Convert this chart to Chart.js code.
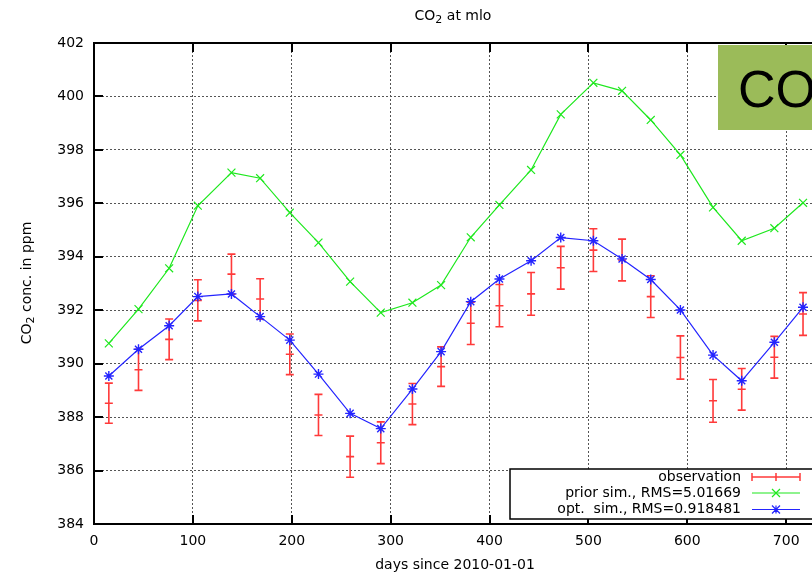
<!DOCTYPE html>
<html lang="en">
<head>
<meta charset="UTF-8">
<title>CO2 at mlo</title>
<script src="https://cdn.jsdelivr.net/npm/chart.js"></script>
<style>
  body { margin: 0; background: #fff; overflow: hidden; }
  #wrap { position: relative; width: 812px; height: 577px; overflow: hidden; }
  #badge {
    position: absolute; left: 718px; top: 45px; width: 110px; height: 85px;
    box-sizing: border-box; padding: 18px 0 0 20px;
    background: #9bbb59; color: #000;
    font: 52px/52px "Liberation Sans", Arial, sans-serif;
  }
</style>
</head>
<body>
<div id="wrap">
  <canvas id="co2" width="821" height="577"></canvas>
  <div id="badge">CO</div>
</div>
<script>
// monthly samples, days since 2010-01-01
const days = [15, 45, 76, 105, 139, 168, 198, 227, 259, 290, 322, 351,
              381, 410, 442, 472, 505, 534, 563, 593, 626, 655, 688, 717];
const obsValues = [388.52, 389.77, 390.91, 392.37, 393.35, 392.42, 390.35, 388.08, 386.52, 387.04, 388.49, 389.89,
                   391.51, 392.17, 392.61, 393.59, 394.25, 393.88, 392.51, 390.23, 388.61, 389.04, 390.24, 391.86];
const obsErrors = [0.75, 0.77, 0.76, 0.77, 0.75, 0.76, 0.76, 0.77, 0.77, 0.78, 0.77, 0.74,
                   0.79, 0.79, 0.80, 0.80, 0.80, 0.78, 0.78, 0.81, 0.80, 0.78, 0.78, 0.80];
const priorValues = [390.76, 392.04, 393.57, 395.91, 397.15, 396.94, 395.65, 394.53, 393.07, 391.91, 392.28, 392.94,
                     394.73, 395.94, 397.25, 399.33, 400.51, 400.21, 399.12, 397.81, 395.85, 394.60, 395.07, 396.02];
const optValues = [389.54, 390.54, 391.42, 392.51, 392.61, 391.76, 390.88, 389.61, 388.14, 387.57, 389.05, 390.45,
                   392.32, 393.17, 393.85, 394.72, 394.60, 393.92, 393.15, 392.01, 390.32, 389.36, 390.80, 392.11];
const seriesLabels = ['observation', 'prior sim., RMS=5.01669', 'opt.  sim., RMS=0.918481'];
const xRange = [0, 728.3];
const yRange = [384, 402];

const FONT = '"DejaVu Sans", sans-serif';
const obsColor = '#ff3a3a';
const priorColor = '#1ee81e';
const optColor = '#2424ff';

const pts = vals => vals.map((v, i) => ({ x: days[i], y: v }));

// text with a subscript part, e.g. CO + 2
function drawRich(ctx, parts, x, y, size) {
  const subSize = Math.round(size * 0.75);
  let total = 0;
  parts.forEach(p => {
    ctx.font = (p.sub ? subSize : size) + 'px ' + FONT;
    p.w = ctx.measureText(p.t).width;
    total += p.w;
  });
  let cx = x - total / 2;
  ctx.textBaseline = 'middle';
  ctx.textAlign = 'left';
  parts.forEach(p => {
    ctx.font = (p.sub ? subSize : size) + 'px ' + FONT;
    ctx.fillText(p.t, cx, p.sub ? y + 4 : y);
    cx += p.w;
  });
}

function marker(ctx, style, x, y, r) {
  ctx.beginPath();
  if (style === 'crossRot' || style === 'star') {
    ctx.moveTo(x - r, y - r); ctx.lineTo(x + r, y + r);
    ctx.moveTo(x - r, y + r); ctx.lineTo(x + r, y - r);
  }
  if (style === 'star') {
    ctx.moveTo(x - r, y); ctx.lineTo(x + r, y);
    ctx.moveTo(x, y - r); ctx.lineTo(x, y + r);
  }
  ctx.stroke();
}

const errorBars = {
  id: 'errorBars',
  beforeDatasetsDraw(chart) {
    const { ctx, scales: { x, y } } = chart;
    ctx.save();
    ctx.strokeStyle = obsColor;
    ctx.lineWidth = 1.6;
    days.forEach((d, i) => {
      const px = x.getPixelForValue(d);
      const lo = y.getPixelForValue(obsValues[i] - obsErrors[i]);
      const hi = y.getPixelForValue(obsValues[i] + obsErrors[i]);
      ctx.beginPath();
      ctx.moveTo(px, lo); ctx.lineTo(px, hi);
      ctx.moveTo(px - 4, lo); ctx.lineTo(px + 4, lo);
      ctx.moveTo(px - 4, hi); ctx.lineTo(px + 4, hi);
      ctx.stroke();
    });
    ctx.restore();
  }
};

const frame = {
  id: 'frame',
  afterDraw(chart) {
    const { ctx, chartArea: a, scales: { x, y } } = chart;
    ctx.save();
    ctx.strokeStyle = '#000';
    ctx.lineWidth = 2;
    ctx.strokeRect(a.left, a.top, a.right - a.left, a.bottom - a.top);
    ctx.beginPath();
    y.ticks.forEach(t => {
      const py = Math.round(y.getPixelForValue(t.value));
      ctx.moveTo(a.left, py); ctx.lineTo(a.left + 9, py);
    });
    x.ticks.forEach(t => {
      const px = Math.round(x.getPixelForValue(t.value));
      ctx.moveTo(px, a.bottom); ctx.lineTo(px, a.bottom - 9);
      ctx.moveTo(px, a.top); ctx.lineTo(px, a.top + 9);
    });
    ctx.stroke();

    // title and y axis label
    ctx.fillStyle = '#000';
    drawRich(ctx, [{ t: 'CO' }, { t: '2', sub: true }, { t: ' at mlo' }], 453, 16, 14);
    ctx.save();
    ctx.translate(27, 283);
    ctx.rotate(-Math.PI / 2);
    drawRich(ctx, [{ t: 'CO' }, { t: '2', sub: true }, { t: ' conc. in ppm' }], 0, 0, 14);
    ctx.restore();
    ctx.font = '14px ' + FONT;
    ctx.textAlign = 'center';
    ctx.fillText('days since 2010-01-01', 455, 565);

    // key box, gnuplot style
    ctx.fillStyle = '#fff';
    ctx.fillRect(510, 469, 320, 50);
    ctx.lineWidth = 1.5;
    ctx.strokeRect(510, 469, 320, 50);
    const rows = [477, 493, 509.5];
    ctx.fillStyle = '#000';
    ctx.textAlign = 'right';
    ctx.textBaseline = 'middle';
    seriesLabels.forEach((s, i) => ctx.fillText(s, 741, rows[i]));
    ctx.lineWidth = 1.5;
    ctx.strokeStyle = obsColor;
    ctx.beginPath();
    ctx.moveTo(752, rows[0]); ctx.lineTo(800, rows[0]);
    [752, 776, 800].forEach(px => { ctx.moveTo(px, rows[0] - 4); ctx.lineTo(px, rows[0] + 4); });
    ctx.stroke();
    ctx.lineWidth = 1.2;
    ctx.strokeStyle = priorColor;
    ctx.beginPath(); ctx.moveTo(752, rows[1]); ctx.lineTo(800, rows[1]); ctx.stroke();
    marker(ctx, 'crossRot', 776, rows[1], 4);
    ctx.strokeStyle = optColor;
    ctx.beginPath(); ctx.moveTo(752, rows[2]); ctx.lineTo(800, rows[2]); ctx.stroke();
    marker(ctx, 'star', 776, rows[2], 4);
    ctx.restore();
  }
};

new Chart(document.getElementById('co2'), {
  type: 'scatter',
  data: {
    datasets: [
      {
        label: seriesLabels[0], data: pts(obsValues), order: 2,
        showLine: false, pointStyle: 'line', pointRadius: 4,
        borderColor: obsColor, borderWidth: 1.6
      },
      {
        label: seriesLabels[1], data: pts(priorValues), order: 1,
        showLine: true, borderColor: priorColor, borderWidth: 1.2,
        pointStyle: 'crossRot', pointRadius: 5.6, pointBorderWidth: 1.2
      },
      {
        label: seriesLabels[2], data: pts(optValues), order: 0,
        showLine: true, borderColor: optColor, borderWidth: 1.2,
        pointStyle: 'star', pointRadius: 5, pointBorderWidth: 1.4
      }
    ]
  },
  options: {
    responsive: false,
    animation: false,
    layout: { padding: { top: 43, right: 3, left: 0, bottom: 0 } },
    plugins: { legend: { display: false }, title: { display: false }, tooltip: { enabled: false } },
    scales: {
      x: {
        type: 'linear', min: xRange[0], max: xRange[1],
        ticks: { stepSize: 100, includeBounds: false, color: '#000', font: { family: FONT, size: 14 }, padding: 9, maxRotation: 0 },
        grid: { color: '#555', lineWidth: 1, drawTicks: false },
        border: { display: false, dash: [2, 2] },
        afterFit: s => { s.height = 53; }
      },
      y: {
        min: yRange[0], max: yRange[1],
        ticks: { stepSize: 2, color: '#000', font: { family: FONT, size: 14 }, padding: 10 },
        grid: { color: '#555', lineWidth: 1, drawTicks: false },
        border: { display: false, dash: [2, 2] },
        afterFit: s => { s.width = 94; }
      }
    }
  },
  plugins: [errorBars, frame]
});
</script>
</body>
</html>
